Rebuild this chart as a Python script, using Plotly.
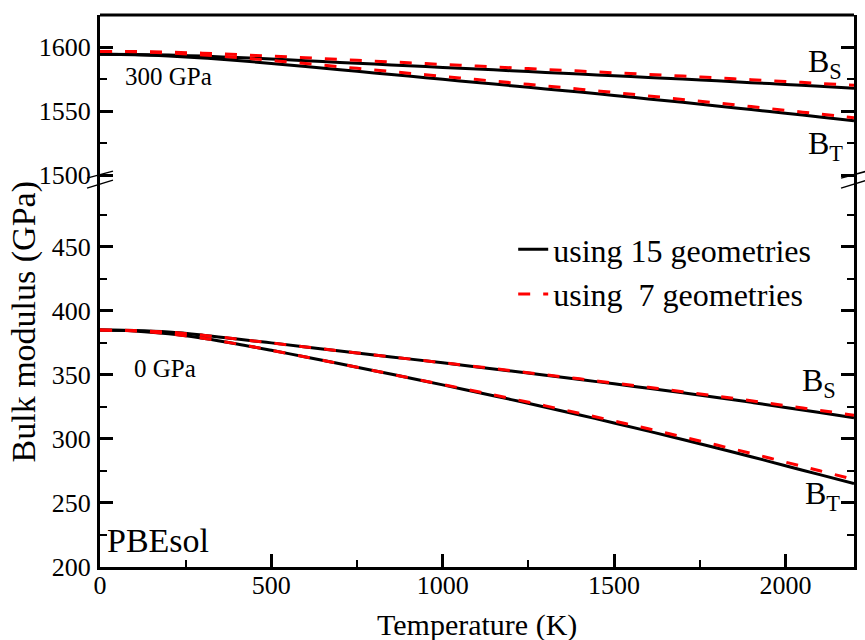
import plotly.graph_objects as go

# ---------------- data ----------------
temperature = [0, 100, 200, 300, 400, 500, 600, 700, 800, 900, 1000, 1100,
               1200, 1300, 1400, 1500, 1600, 1700, 1800, 1900, 2000, 2100, 2200]

# 0 GPa, adiabatic (B_S)
bs_0gpa_15geo = [385.0, 384.6, 383.4, 381.0, 378.0, 375.0, 371.8, 368.7, 365.6, 362.5, 359.4, 356.2,
                 353.0, 349.7, 346.4, 343.0, 339.6, 336.1, 332.4, 328.6, 324.6, 320.6, 316.5]
bs_0gpa_7geo = [385.0, 384.6, 383.4, 381.0, 378.0, 375.0, 371.8, 368.7, 365.6, 362.5, 359.5, 356.4,
                353.3, 350.1, 346.9, 343.6, 340.3, 336.9, 333.4, 329.8, 326.0, 322.3, 318.5]
# 0 GPa, isothermal (B_T)
bt_0gpa_15geo = [385.0, 384.3, 382.1, 378.6, 374.2, 369.2, 364.0, 358.7, 353.3, 347.8, 342.2, 336.5,
                 330.7, 324.8, 318.7, 312.5, 306.1, 299.6, 292.9, 286.1, 279.1, 272.1, 265.1]
bt_0gpa_7geo = [385.0, 384.3, 382.1, 378.6, 374.2, 369.2, 364.0, 358.7, 353.3, 347.8, 342.5, 337.0,
                331.5, 325.8, 320.0, 314.0, 307.9, 301.6, 295.2, 288.7, 281.9, 275.1, 268.3]
# 300 GPa, adiabatic (B_S)
bs_300gpa_15geo = [1594.3, 1594.2, 1593.7, 1592.9, 1591.8, 1590.6, 1589.3, 1588.0, 1586.7, 1585.4, 1584.1, 1582.8,
                   1581.5, 1580.2, 1578.9, 1577.6, 1576.3, 1575.0, 1573.6, 1572.2, 1570.8, 1569.3, 1567.8]
bs_300gpa_7geo = [1596.6, 1596.5, 1596.0, 1595.2, 1594.1, 1592.9, 1591.6, 1590.3, 1589.0, 1587.7, 1586.4, 1585.1,
                  1583.8, 1582.5, 1581.2, 1579.9, 1578.6, 1577.3, 1575.9, 1574.5, 1573.1, 1571.6, 1570.1]
# 300 GPa, isothermal (B_T)
bt_300gpa_15geo = [1594.3, 1594.0, 1593.0, 1591.5, 1589.5, 1587.2, 1584.8, 1582.3, 1579.8, 1577.3, 1574.8, 1572.3,
                   1569.8, 1567.3, 1564.8, 1562.2, 1559.5, 1556.8, 1554.0, 1551.2, 1548.3, 1545.4, 1542.5]
bt_300gpa_7geo = [1596.6, 1596.3, 1595.3, 1593.8, 1591.8, 1589.5, 1587.1, 1584.6, 1582.1, 1579.6, 1577.1, 1574.6,
                  1572.1, 1569.6, 1567.1, 1564.5, 1561.8, 1559.1, 1556.3, 1553.5, 1550.6, 1547.7, 1544.8]

x_ticks = [0, 500, 1000, 1500, 2000]
x_minor = [250, 750, 1250, 1750]
y_low_ticks = [200, 250, 300, 350, 400, 450]
y_low_minor = [225, 275, 325, 375, 425, 475]
y_up_ticks = [1500, 1550, 1600]
y_up_minor = [1525, 1575]

legend_15 = "using 15 geometries"
legend_7 = "using \u00a07 geometries"

# ---------------- figure ----------------
FONT = "Liberation Serif"
fig = go.Figure()

solid = dict(color="black", width=3)
dashed = dict(color="#ff0000", width=3, dash="12px,13px")

black_series = [(bs_300gpa_15geo, "y2"), (bt_300gpa_15geo, "y2"), (bs_0gpa_15geo, "y"), (bt_0gpa_15geo, "y")]
red_series = [(bs_300gpa_7geo, "y2"), (bt_300gpa_7geo, "y2"), (bs_0gpa_7geo, "y"), (bt_0gpa_7geo, "y")]

for i, (vals, ax) in enumerate(black_series):
    fig.add_trace(go.Scatter(x=temperature, y=vals, xaxis="x", yaxis=ax, mode="lines",
                             line=solid, name=legend_15, legendgroup="g15",
                             showlegend=(i == 0), line_shape="spline"))
for i, (vals, ax) in enumerate(red_series):
    fig.add_trace(go.Scatter(x=temperature, y=vals, xaxis="x", yaxis=ax, mode="lines",
                             line=dashed, name=legend_7, legendgroup="g7",
                             showlegend=(i == 0), line_shape="spline"))

split = 0.703
axis_common = dict(showline=True, linecolor="black", linewidth=3, showgrid=False, zeroline=False,
                   ticks="inside", ticklen=13, tickwidth=2.5, tickcolor="black",
                   tickfont=dict(family=FONT, size=26, color="black"))

fig.update_layout(
    width=865, height=640,
    margin=dict(l=100, r=8, t=15, b=73),
    paper_bgcolor="white", plot_bgcolor="white",
    font=dict(family=FONT, color="black"),
    xaxis=dict(domain=[0, 1], range=[0, 2200], anchor="y", tickvals=x_ticks, mirror=False,
               minor=dict(ticks="inside", ticklen=7, tickwidth=2, tickcolor="black", tickvals=x_minor),
               ticklabelstandoff=-7, **axis_common),
    yaxis=dict(domain=[0, split], range=[200, 503], anchor="x", tickvals=y_low_ticks, mirror="allticks",
               minor=dict(ticks="inside", ticklen=7, tickwidth=2, tickcolor="black", tickvals=y_low_minor),
               ticklabelstandoff=1, **axis_common),
    yaxis2=dict(domain=[split, 1], range=[1497, 1625], anchor="x", tickvals=y_up_ticks, mirror="allticks",
                minor=dict(ticks="inside", ticklen=7, tickwidth=2, tickcolor="black", tickvals=y_up_minor),
                ticklabelstandoff=1, **axis_common),
    legend=dict(x=0.548, y=0.625, xanchor="left", yanchor="top", bgcolor="rgba(0,0,0,0)",
                font=dict(family=FONT, size=32, color="black"), borderwidth=0, tracegroupgap=0),
    showlegend=True,
)

# top border of the frame
fig.add_shape(type="line", xref="paper", yref="paper", x0=0, x1=1, y0=1, y1=1,
              line=dict(color="black", width=3))

# axis-break marks
for xc in (0.0, 1.0):
    for (ya, yb) in ((0.7045, 0.7172), (0.6864, 0.7009)):
        fig.add_shape(type="line", xref="paper", yref="paper",
                      x0=xc - 0.0172, x1=xc + 0.0172, y0=ya, y1=yb,
                      line=dict(color="black", width=1.5))

def note(text, x, y, size, xanchor="left"):
    fig.add_annotation(text=text, xref="paper", yref="paper", x=x, y=y, xanchor=xanchor,
                       yanchor="middle", showarrow=False,
                       font=dict(family=FONT, size=size, color="black"))

note("B<sub>S</sub>", 0.937, 0.913, 32)
note("B<sub>T</sub>", 0.937, 0.764, 32)
note("B<sub>S</sub>", 0.929, 0.335, 32)
note("B<sub>T</sub>", 0.932, 0.130, 32)
note("300 GPa", 0.031, 0.8894, 25)
note("0 GPa", 0.042, 0.3602, 25)
note("PBEsol", 0.007, 0.0484, 34)

# axis titles
fig.add_annotation(text="Temperature (K)", xref="paper", yref="paper", x=0.5, y=-0.1057,
                   xanchor="center", yanchor="middle", showarrow=False,
                   font=dict(family=FONT, size=30, color="black"))
fig.add_annotation(text="Bulk modulus (GPa)", xref="paper", yref="paper", x=-0.1004, y=0.4435,
                   xanchor="center", yanchor="middle", showarrow=False, textangle=-90,
                   font=dict(family=FONT, size=34, color="black"))

fig.write_html("out.html", config={"displayModeBar": False},
               post_script="document.body.style.margin='0';")
